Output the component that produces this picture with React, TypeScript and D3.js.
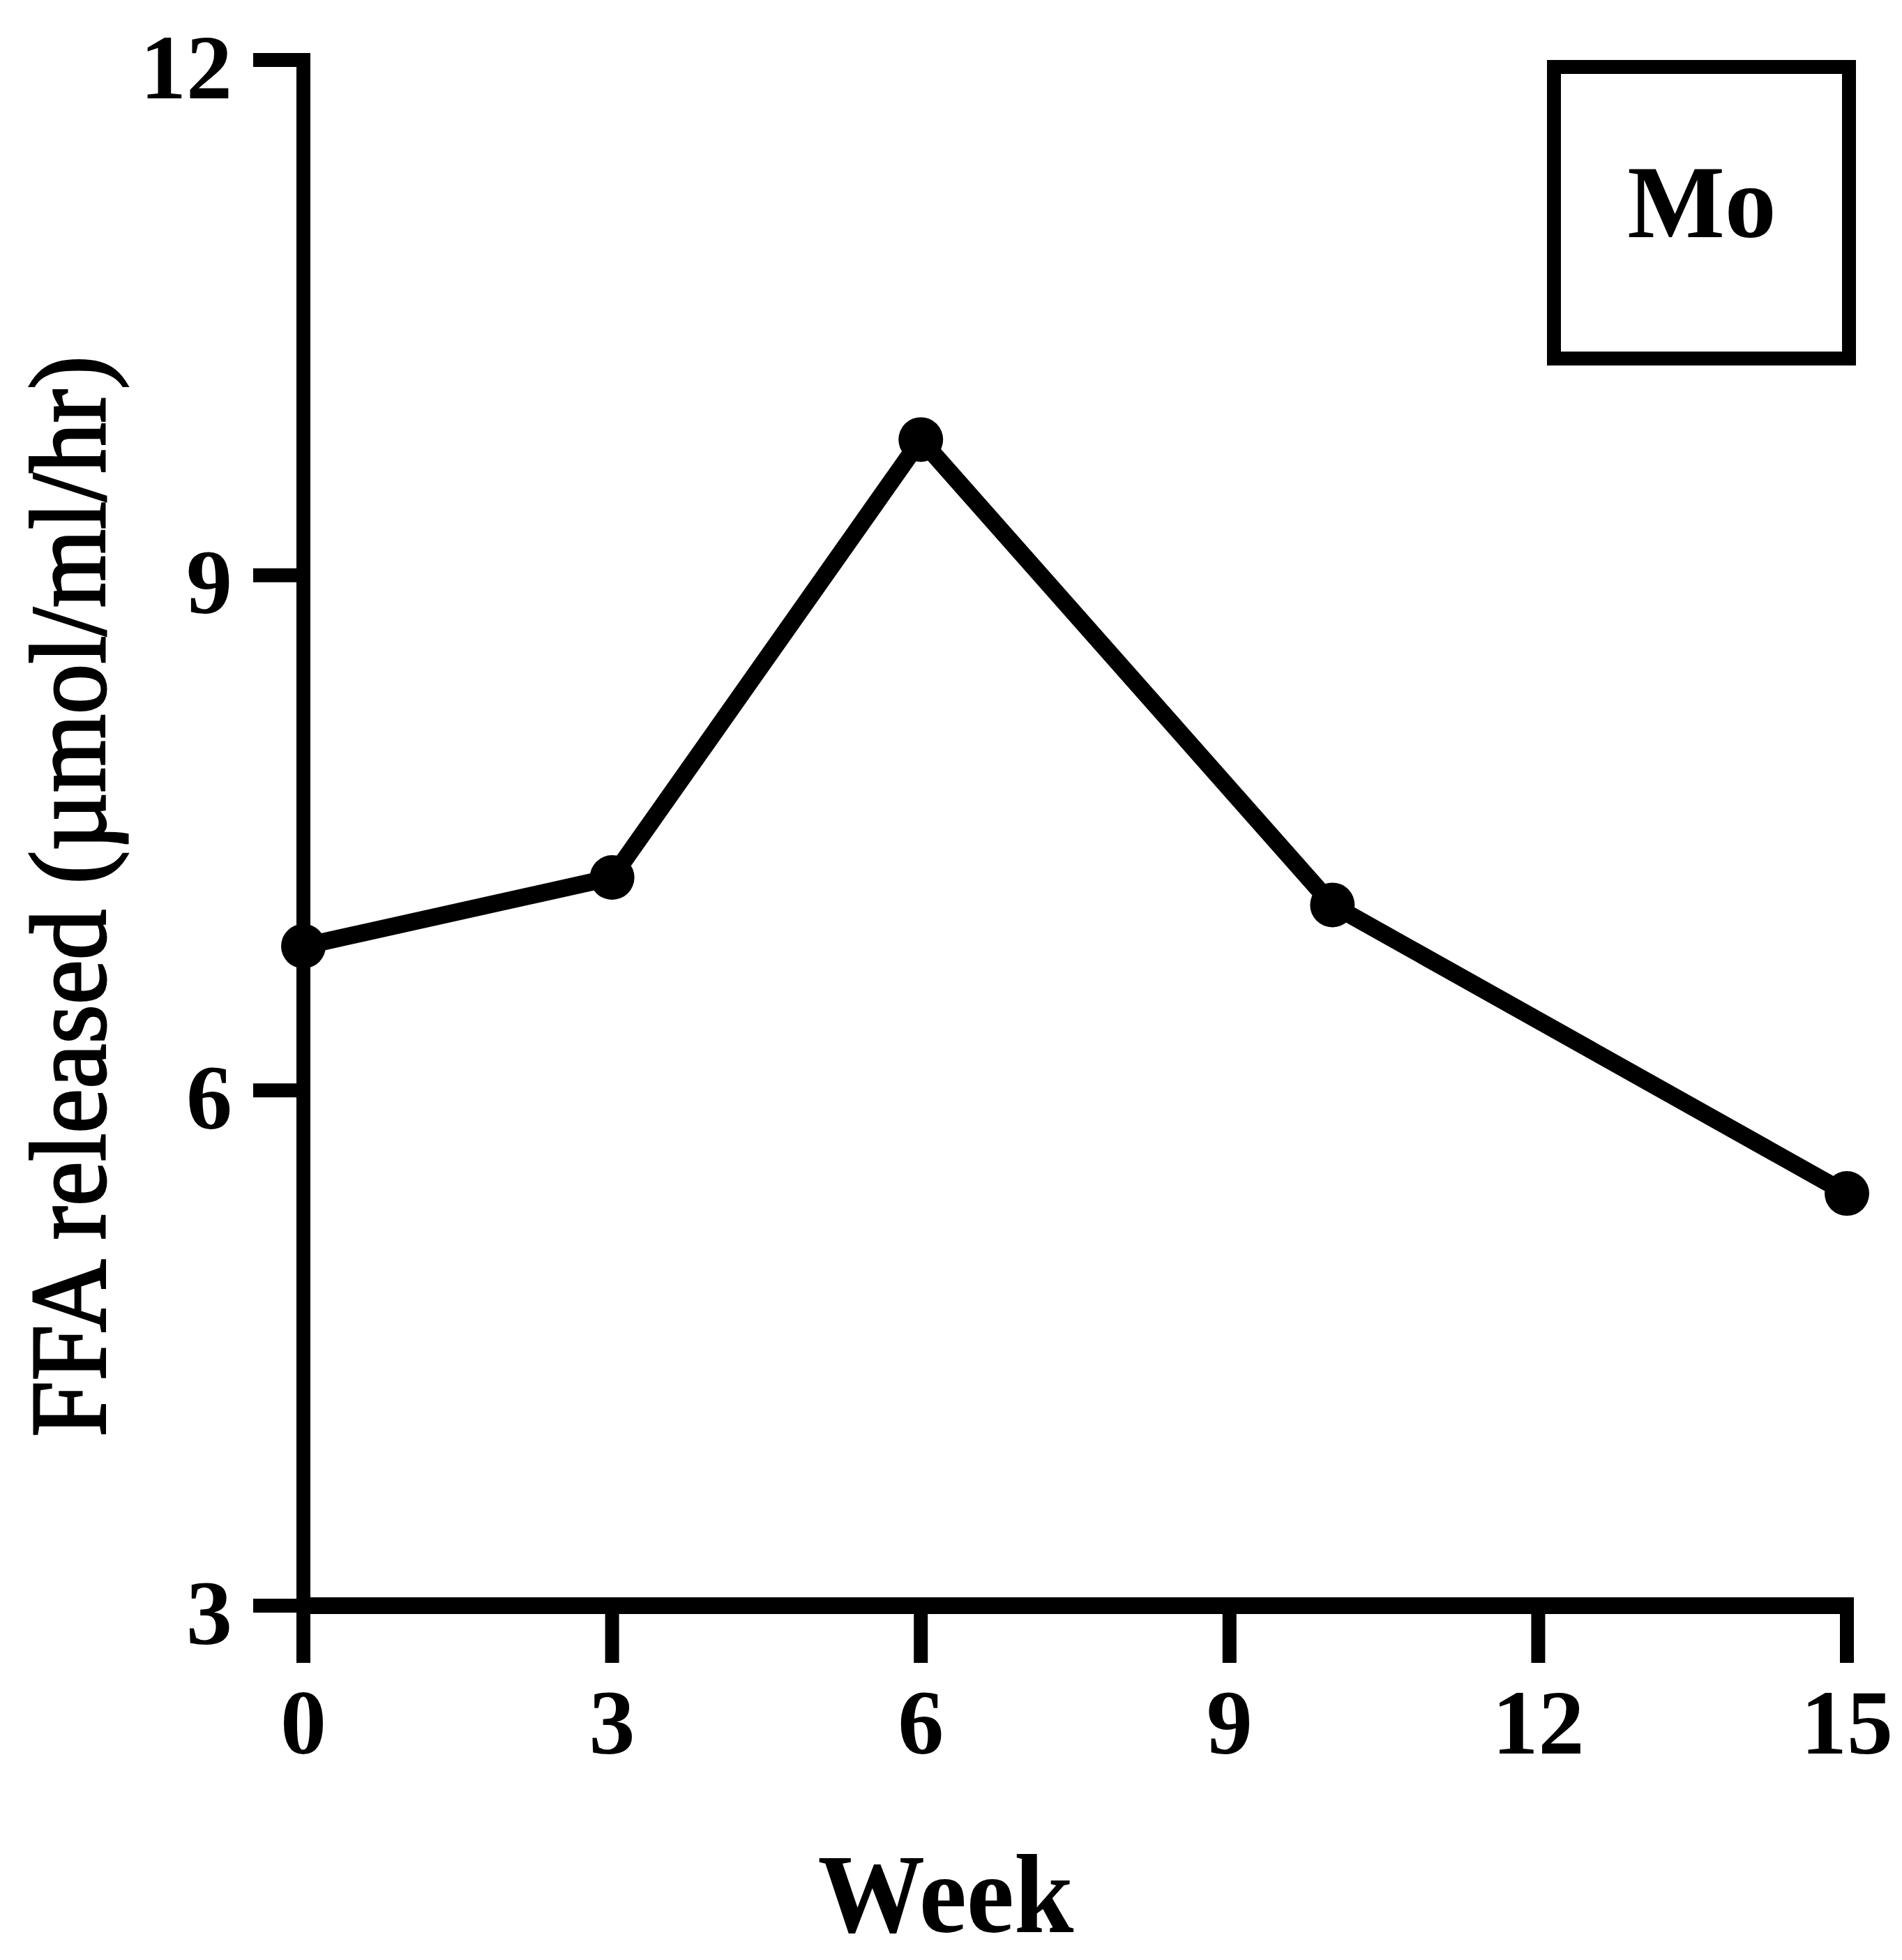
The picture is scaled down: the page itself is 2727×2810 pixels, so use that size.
import React from "react";
import * as d3 from "d3";

const weeks = [0, 3, 6, 10, 15];
const ffaReleased = [6.84, 7.24, 9.79, 7.08, 5.4];
const xTickValues = [0, 3, 6, 9, 12, 15];
const yTickValues = [3, 6, 9, 12];
const xTitle = "Week";
const yTitle = "FFA released (\u00b5mol/ml/hr)";
const panelLabel = "Mo";

const W = 2727;
const H = 2810;
const FONT = "'Liberation Serif', 'Times New Roman', serif";

export default function App() {
  const x = d3.scaleLinear().domain([0, 15]).range([435, 2648]);
  const y = d3.scaleLinear().domain([3, 12]).range([2302, 86]);

  const pts = weeks.map((w, i) => [w, ffaReleased[i]] as [number, number]);
  const line = d3
    .line<[number, number]>()
    .x((d) => x(d[0]))
    .y((d) => y(d[1]));

  const axisW = 20;
  const tickLenY = 72;
  const tickLenX = 82;

  return (
    <svg
      width={W}
      height={H}
      viewBox={`0 0 ${W} ${H}`}
      style={{ position: "absolute", left: 0, top: 0, background: "#fff" }}
    >
      <rect x={0} y={0} width={W} height={H} fill="#fff" />
      {/* Y axis */}
      <line x1={x(0)} x2={x(0)} y1={y(12) - axisW / 2} y2={y(3)} stroke="#000" strokeWidth={axisW} />
      {/* X axis */}
      <line x1={x(0)} x2={x(15) + axisW / 2} y1={y(3)} y2={y(3)} stroke="#000" strokeWidth={axisW + 4} />
      {/* Y ticks */}
      {yTickValues.map((v) => (
        <g key={"yt" + v}>
          <line x1={x(0) - tickLenY} x2={x(0)} y1={y(v)} y2={y(v)} stroke="#000" strokeWidth={axisW} />
          <text
            x={333}
            y={y(v) + 10}
            textAnchor="end"
            dominantBaseline="central"
            fontFamily={FONT}
            fontWeight="bold"
            fontSize={132}
            fill="#000"
          >
            {v}
          </text>
        </g>
      ))}
      {/* X ticks */}
      {xTickValues.map((v) => (
        <g key={"xt" + v}>
          <line x1={x(v)} x2={x(v)} y1={y(3)} y2={y(3) + tickLenX} stroke="#000" strokeWidth={axisW} />
          <text
            x={x(v)}
            y={2514}
            textAnchor="middle"
            fontFamily={FONT}
            fontWeight="bold"
            fontSize={132}
            fill="#000"
          >
            {v}
          </text>
        </g>
      ))}
      {/* Data line */}
      <path d={line(pts) || ""} fill="none" stroke="#000" strokeWidth={25} strokeLinejoin="round" />
      {pts.map((d, i) => (
        <circle key={"p" + i} cx={x(d[0])} cy={y(d[1])} r={32} fill="#000" />
      ))}
      {/* Panel label box */}
      <rect x={2228} y={96} width={423} height={418} fill="none" stroke="#000" strokeWidth={20} />
      <text
        x={2440}
        y={340}
        textAnchor="middle"
        fontFamily={FONT}
        fontWeight="bold"
        fontSize={148}
        fill="#000"
      >
        {panelLabel}
      </text>
      {/* Axis titles */}
      <text
        x={1356}
        y={2770}
        textAnchor="middle"
        fontFamily={FONT}
        fontWeight="bold"
        fontSize={160}
        textLength={367}
        lengthAdjust="spacingAndGlyphs"
        fill="#000"
      >
        {xTitle}
      </text>
      <text
        transform={`translate(150, 1285) rotate(-90)`}
        textAnchor="middle"
        fontFamily={FONT}
        fontWeight="normal"
        fontSize={155}
        textLength={1550}
        lengthAdjust="spacingAndGlyphs"
        fill="#000"
        stroke="#000"
        strokeWidth={3}
      >
        {yTitle}
      </text>
    </svg>
  );
}
